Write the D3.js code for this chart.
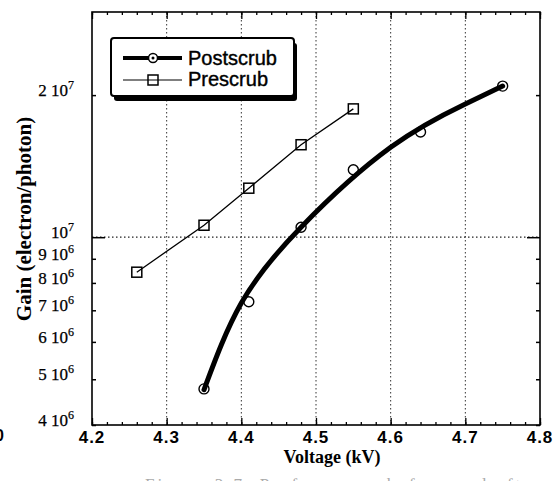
<!DOCTYPE html>
<html><head><meta charset="utf-8">
<script src="https://cdn.jsdelivr.net/npm/d3@7/dist/d3.min.js"></script>
<style>body{margin:0;background:#fff}svg{display:block}</style>
</head><body>
<svg id="c" width="559" height="481"></svg>
<script>
// ---- data ----
const postVoltage = [4.35, 4.41, 4.48, 4.55, 4.64, 4.75];
const postGain    = [4.77e6, 7.30e6, 1.05e7, 1.39e7, 1.67e7, 2.09e7];
// fitted curve through the Postscrub points
const fitVoltage  = [4.35, 4.40, 4.48, 4.60, 4.70, 4.75];
const fitGain     = [4.75e6, 7.25e6, 1.05e7, 1.55e7, 1.915e7, 2.09e7];
const preVoltage  = [4.26, 4.35, 4.41, 4.48, 4.55];
const preGain     = [8.43e6, 1.06e7, 1.27e7, 1.57e7, 1.87e7];
const xTicks = [4.2, 4.3, 4.4, 4.5, 4.6, 4.7, 4.8];
const xGrid = [4.3, 4.4, 4.5, 4.6, 4.7];
const yTicks = [4e6, 5e6, 6e6, 7e6, 8e6, 9e6, 1e7, 2e7];
const yTickLabels = [["4 10","6"],["5 10","6"],["6 10","6"],["7 10","6"],["8 10","6"],["9 10","6"],["10","7"],["2 10","7"]];
const seriesNames = ["Postscrub", "Prescrub"];

const svg = d3.select("#c");
const L = 92, R = 540, T = 12, B = 425;
const x = d3.scaleLinear().domain([4.2, 4.8]).range([L, R]);
const y = d3.scaleLog().domain([4e6, 3e7]).range([B, T]);

// grid
const g = svg.append("g");
g.selectAll(".vg").data(xGrid).enter().append("line")
  .attr("x1", d => x(d)).attr("x2", d => x(d)).attr("y1", T).attr("y2", B)
  .attr("stroke", "#333").attr("stroke-width", 1).attr("stroke-dasharray", "1.5,2.5");
g.append("line").attr("x1", L).attr("x2", R).attr("y1", y(1e7)).attr("y2", y(1e7))
  .attr("stroke", "#222").attr("stroke-width", 1.2).attr("stroke-dasharray", "1.5,2.5");

// axes (ticks inward)
const minorX = d3.range(4.2, 4.8001, 0.02).map(v => +v.toFixed(2));
const axB = d3.axisTop(x).tickValues(minorX).tickSize(3).tickFormat("");
const axBM = d3.axisTop(x).tickValues(xTicks).tickSize(7).tickFormat("");
const axT = d3.axisBottom(x).tickValues(minorX).tickSize(3).tickFormat("");
const axTM = d3.axisBottom(x).tickValues(xTicks).tickSize(7).tickFormat("");
[[axB, B], [axBM, B], [axT, T], [axTM, T]].forEach(([a, p]) => {
  const gg = svg.append("g").attr("transform", `translate(0,${p})`).call(a);
  gg.select(".domain").remove();
  gg.selectAll("line").attr("stroke", "#000").attr("stroke-width", 1.3);
});
const yShort = yTicks.filter(v => v !== 1e7);
const axL = d3.axisRight(y).tickValues(yShort).tickSize(4).tickFormat("");
const axLM = d3.axisRight(y).tickValues([1e7]).tickSize(13).tickFormat("");
const axR = d3.axisLeft(y).tickValues(yShort).tickSize(4).tickFormat("");
const axRM = d3.axisLeft(y).tickValues([1e7]).tickSize(13).tickFormat("");
[[axL, L], [axLM, L], [axR, R], [axRM, R]].forEach(([a, p]) => {
  const gg = svg.append("g").attr("transform", `translate(${p},0)`).call(a);
  gg.select(".domain").remove();
  gg.selectAll("line").attr("stroke", "#000").attr("stroke-width", 1.5);
});
svg.append("rect").attr("x", L).attr("y", T).attr("width", R - L).attr("height", B - T)
  .attr("fill", "none").attr("stroke", "#000").attr("stroke-width", 1.6);

// x tick labels
svg.selectAll(".xl").data(xTicks).enter().append("text")
  .attr("x", d => x(d)).attr("y", 443).attr("text-anchor", "middle")
  .attr("font-family", "Liberation Sans, Arial, sans-serif").attr("font-weight", "bold")
  .attr("font-size", 17).attr("letter-spacing", 1).text(d => d.toFixed(1));

// y tick labels
yTicks.forEach((v, i) => {
  const t = svg.append("text").attr("x", 74).attr("y", y(v) + 1).attr("text-anchor", "end")
    .attr("font-family", "Liberation Serif, Times New Roman, serif").attr("font-size", 17)
    .attr("stroke", "#000").attr("stroke-width", 0.25);
  t.append("tspan").text(yTickLabels[i][0]);
  t.append("tspan").attr("dy", -7).attr("font-size", 12).text(yTickLabels[i][1]);
});

// axis titles
svg.append("text").attr("x", 332).attr("y", 463).attr("text-anchor", "middle")
  .attr("font-family", "Liberation Serif, Times New Roman, serif").attr("font-weight", "bold")
  .attr("font-size", 18).text("Voltage (kV)");
svg.append("text").attr("transform", "translate(31,219) rotate(-90)").attr("text-anchor", "middle")
  .attr("font-family", "Liberation Serif, Times New Roman, serif").attr("font-weight", "bold")
  .attr("font-size", 21).text("Gain (electron/photon)");

// series
const pre = preVoltage.map((v, i) => [v, preGain[i]]);
const post = postVoltage.map((v, i) => [v, postGain[i]]);
const fit = fitVoltage.map((v, i) => [v, fitGain[i]]);
svg.append("path").datum(pre)
  .attr("d", d3.line().x(d => x(d[0])).y(d => y(d[1])))
  .attr("fill", "none").attr("stroke", "#000").attr("stroke-width", 1.3);
svg.selectAll(".sq").data(pre).enter().append("rect")
  .attr("x", d => x(d[0]) - 5).attr("y", d => y(d[1]) - 5).attr("width", 10).attr("height", 10)
  .attr("fill", "none").attr("stroke", "#000").attr("stroke-width", 1.5);
svg.selectAll(".ci").data(post).enter().append("circle")
  .attr("cx", d => x(d[0])).attr("cy", d => y(d[1])).attr("r", 5)
  .attr("fill", "#fff").attr("stroke", "#000").attr("stroke-width", 1.4);
svg.append("path").datum(fit)
  .attr("d", d3.line().x(d => x(d[0])).y(d => y(d[1])).curve(d3.curveNatural))
  .attr("fill", "none").attr("stroke", "#000").attr("stroke-width", 5).attr("stroke-linecap", "round");

// legend
const lg = svg.append("g");
lg.append("rect").attr("x", 114).attr("y", 43).attr("width", 183).attr("height", 58).attr("rx", 3).attr("fill", "#000");
lg.append("rect").attr("x", 111).attr("y", 38).attr("width", 183).attr("height", 58).attr("rx", 3)
  .attr("fill", "#fff").attr("stroke", "#000").attr("stroke-width", 2);
lg.append("line").attr("x1", 123).attr("x2", 182).attr("y1", 58).attr("y2", 58).attr("stroke", "#000").attr("stroke-width", 4);
lg.append("circle").attr("cx", 153).attr("cy", 58).attr("r", 4.5).attr("fill", "#fff").attr("stroke", "#000").attr("stroke-width", 1.5);
lg.append("circle").attr("cx", 153).attr("cy", 58).attr("r", 1.5).attr("fill", "#000");
lg.append("line").attr("x1", 123).attr("x2", 182).attr("y1", 80).attr("y2", 80).attr("stroke", "#000").attr("stroke-width", 1.2);
lg.append("rect").attr("x", 148).attr("y", 75).attr("width", 10).attr("height", 10).attr("fill", "none").attr("stroke", "#000").attr("stroke-width", 1.5);
lg.selectAll(".lt").data(seriesNames).enter().append("text")
  .attr("x", 188).attr("y", (d, i) => 65 + i * 21)
  .attr("font-family", "Liberation Sans, Arial, sans-serif").attr("font-size", 20)
  .attr("stroke", "#000").attr("stroke-width", 0.4).text(d => d);

// cropped fragments at edges (cut off in the reference too)
svg.append("text").attr("x", -5).attr("y", 441).attr("font-family", "Liberation Sans, Arial, sans-serif")
  .attr("font-weight", "bold").attr("font-size", 16).text("0");
svg.append("text").attr("x", 145).attr("y", 490).attr("font-family", "Liberation Serif, Times New Roman, serif")
  .attr("fill", "#aaa").attr("font-size", 17).attr("letter-spacing", 3).text("Figure 3.7: Performance before and after scrub");
</script>
</body></html>
